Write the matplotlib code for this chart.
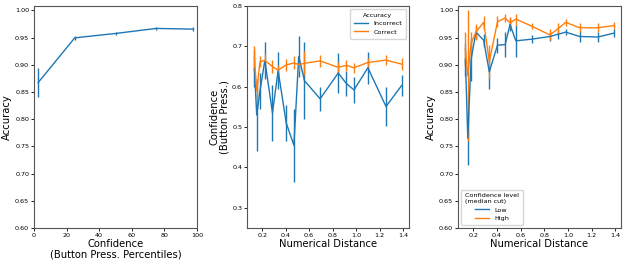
import numpy as np
import matplotlib
matplotlib.use("Agg")
import matplotlib.pyplot as plt
from matplotlib.lines import Line2D

# panel 1 : accuracy vs confidence percentile
conf_pct = [2.5, 25, 50, 75, 97.5]
acc_by_conf = [0.867, 0.9495, 0.9575, 0.9668, 0.9655]
acc_by_conf_err = [0.027, 0.004, 0.003, 0.003, 0.004]

# numerical distances (shared by panels 2 and 3)
dist = [0.134, 0.154, 0.182, 0.223, 0.288, 0.336, 0.405, 0.470, 0.511,
        0.560, 0.693, 0.847, 0.916, 0.981, 1.099, 1.253, 1.386]

# panel 2 : confidence vs distance, split by accuracy
conf_incorrect = [0.645, 0.53, 0.59, 0.665, 0.535, 0.64, 0.51, 0.455, 0.675,
                  0.615, 0.57, 0.634, 0.608, 0.592, 0.647, 0.551, 0.603]
conf_incorrect_err = [0.045, 0.09, 0.045, 0.045, 0.07, 0.045, 0.045, 0.09, 0.05,
                      0.095, 0.03, 0.05, 0.032, 0.033, 0.04, 0.048, 0.027]
conf_correct = [0.672, 0.59, 0.662, 0.665, 0.65, 0.641, 0.654, 0.659, 0.655,
                0.658, 0.664, 0.648, 0.653, 0.647, 0.66, 0.666, 0.656]
conf_correct_err = [0.03, 0.03, 0.014, 0.015, 0.015, 0.013, 0.014, 0.016, 0.016,
                    0.03, 0.014, 0.014, 0.013, 0.013, 0.012, 0.013, 0.015]

# panel 3 : accuracy vs distance, split by confidence level
acc_low = [0.91, 0.765, 0.91, 0.96, 0.945, 0.887, 0.936, 0.937, 0.974,
           0.944, 0.947, 0.952, 0.956, 0.96, 0.952, 0.951, 0.958]
acc_low_err = [0.03, 0.05, 0.04, 0.012, 0.012, 0.032, 0.014, 0.023, 0.012,
               0.03, 0.007, 0.009, 0.008, 0.006, 0.01, 0.009, 0.007]
acc_high = [0.93, 0.88, 0.94, 0.96, 0.978, 0.906, 0.979, 0.986, 0.977,
            0.984, 0.971, 0.955, 0.966, 0.978, 0.968, 0.968, 0.972]
acc_high_err = [0.03, 0.12, 0.02, 0.015, 0.012, 0.03, 0.01, 0.008, 0.01,
                0.01, 0.006, 0.01, 0.01, 0.007, 0.008, 0.008, 0.007]

blue = "#1f77b4"
orange = "#ff7f0e"
lab_fs = 7.2
tick_fs = 4.6

fig = plt.figure(figsize=(6.25, 2.64), dpi=100)
W, H = 625.0, 264.0
ax1 = fig.add_axes([34 / W, 36 / H, 163 / W, 222 / H])
ax2 = fig.add_axes([247 / W, 36 / H, 162 / W, 222 / H])
ax3 = fig.add_axes([458 / W, 36 / H, 163 / W, 222 / H])

kw = dict(lw=1.0, elinewidth=1.0, capsize=0)

ax1.errorbar(conf_pct, acc_by_conf, yerr=acc_by_conf_err, color=blue, **kw)
ax1.set_xlim(0, 100)
ax1.set_ylim(0.6, 1.008)
ax1.set_xticks(np.arange(0, 101, 20))
ax1.set_yticks(np.arange(0.6, 1.001, 0.05))
ax1.set_xlabel("Confidence\n(Button Press. Percentiles)", fontsize=lab_fs, labelpad=1, linespacing=1.0)
ax1.set_ylabel("Accuracy", fontsize=lab_fs, labelpad=2)

ax2.errorbar(dist, conf_incorrect, yerr=conf_incorrect_err, color=blue, **kw)
ax2.errorbar(dist, conf_correct, yerr=conf_correct_err, color=orange, **kw)
ax2.set_ylim(0.25, 0.8)
ax2.set_xticks(np.arange(0.2, 1.41, 0.2))
ax2.set_yticks(np.arange(0.3, 0.81, 0.1))
ax2.set_xlabel("Numerical Distance", fontsize=lab_fs, labelpad=1)
ax2.set_ylabel("Confidence\n(Button Press.)", fontsize=lab_fs, labelpad=2, linespacing=1.0)
h2 = [Line2D([], [], color=blue, lw=1.0), Line2D([], [], color=orange, lw=1.0)]
ax2.legend(h2, ["Incorrect", "Correct"], title="Accuracy", loc="upper right",
           fontsize=tick_fs, title_fontsize=tick_fs,
           handlelength=2.2, borderpad=0.6, labelspacing=0.45)

ax3.errorbar(dist, acc_low, yerr=acc_low_err, color=blue, **kw)
ax3.errorbar(dist, acc_high, yerr=acc_high_err, color=orange, **kw)
ax3.set_ylim(0.6, 1.008)
ax3.set_xticks(np.arange(0.2, 1.41, 0.2))
ax3.set_yticks(np.arange(0.6, 1.001, 0.05))
ax3.set_xlabel("Numerical Distance", fontsize=lab_fs, labelpad=1)
ax3.set_ylabel("Accuracy", fontsize=lab_fs, labelpad=2)
h3 = [Line2D([], [], color=blue, lw=1.0), Line2D([], [], color=orange, lw=1.0)]
ax3.legend(h3, ["Low", "High"], title="Confidence level\n(median cut)", loc="lower left",
           fontsize=tick_fs, title_fontsize=tick_fs,
           handlelength=2.2, borderpad=0.6, labelspacing=0.45)

for ax in (ax1, ax2, ax3):
    ax.tick_params(labelsize=tick_fs, length=2, width=0.6, pad=1.5)
    for s in ax.spines.values():
        s.set_linewidth(0.8)
        s.set_color("#555555")
ax1.set_yticklabels(["%.2f" % v for v in np.arange(0.6, 1.001, 0.05)])
ax3.set_yticklabels(["%.2f" % v for v in np.arange(0.6, 1.001, 0.05)])

fig.savefig("out.png", dpi=100)
